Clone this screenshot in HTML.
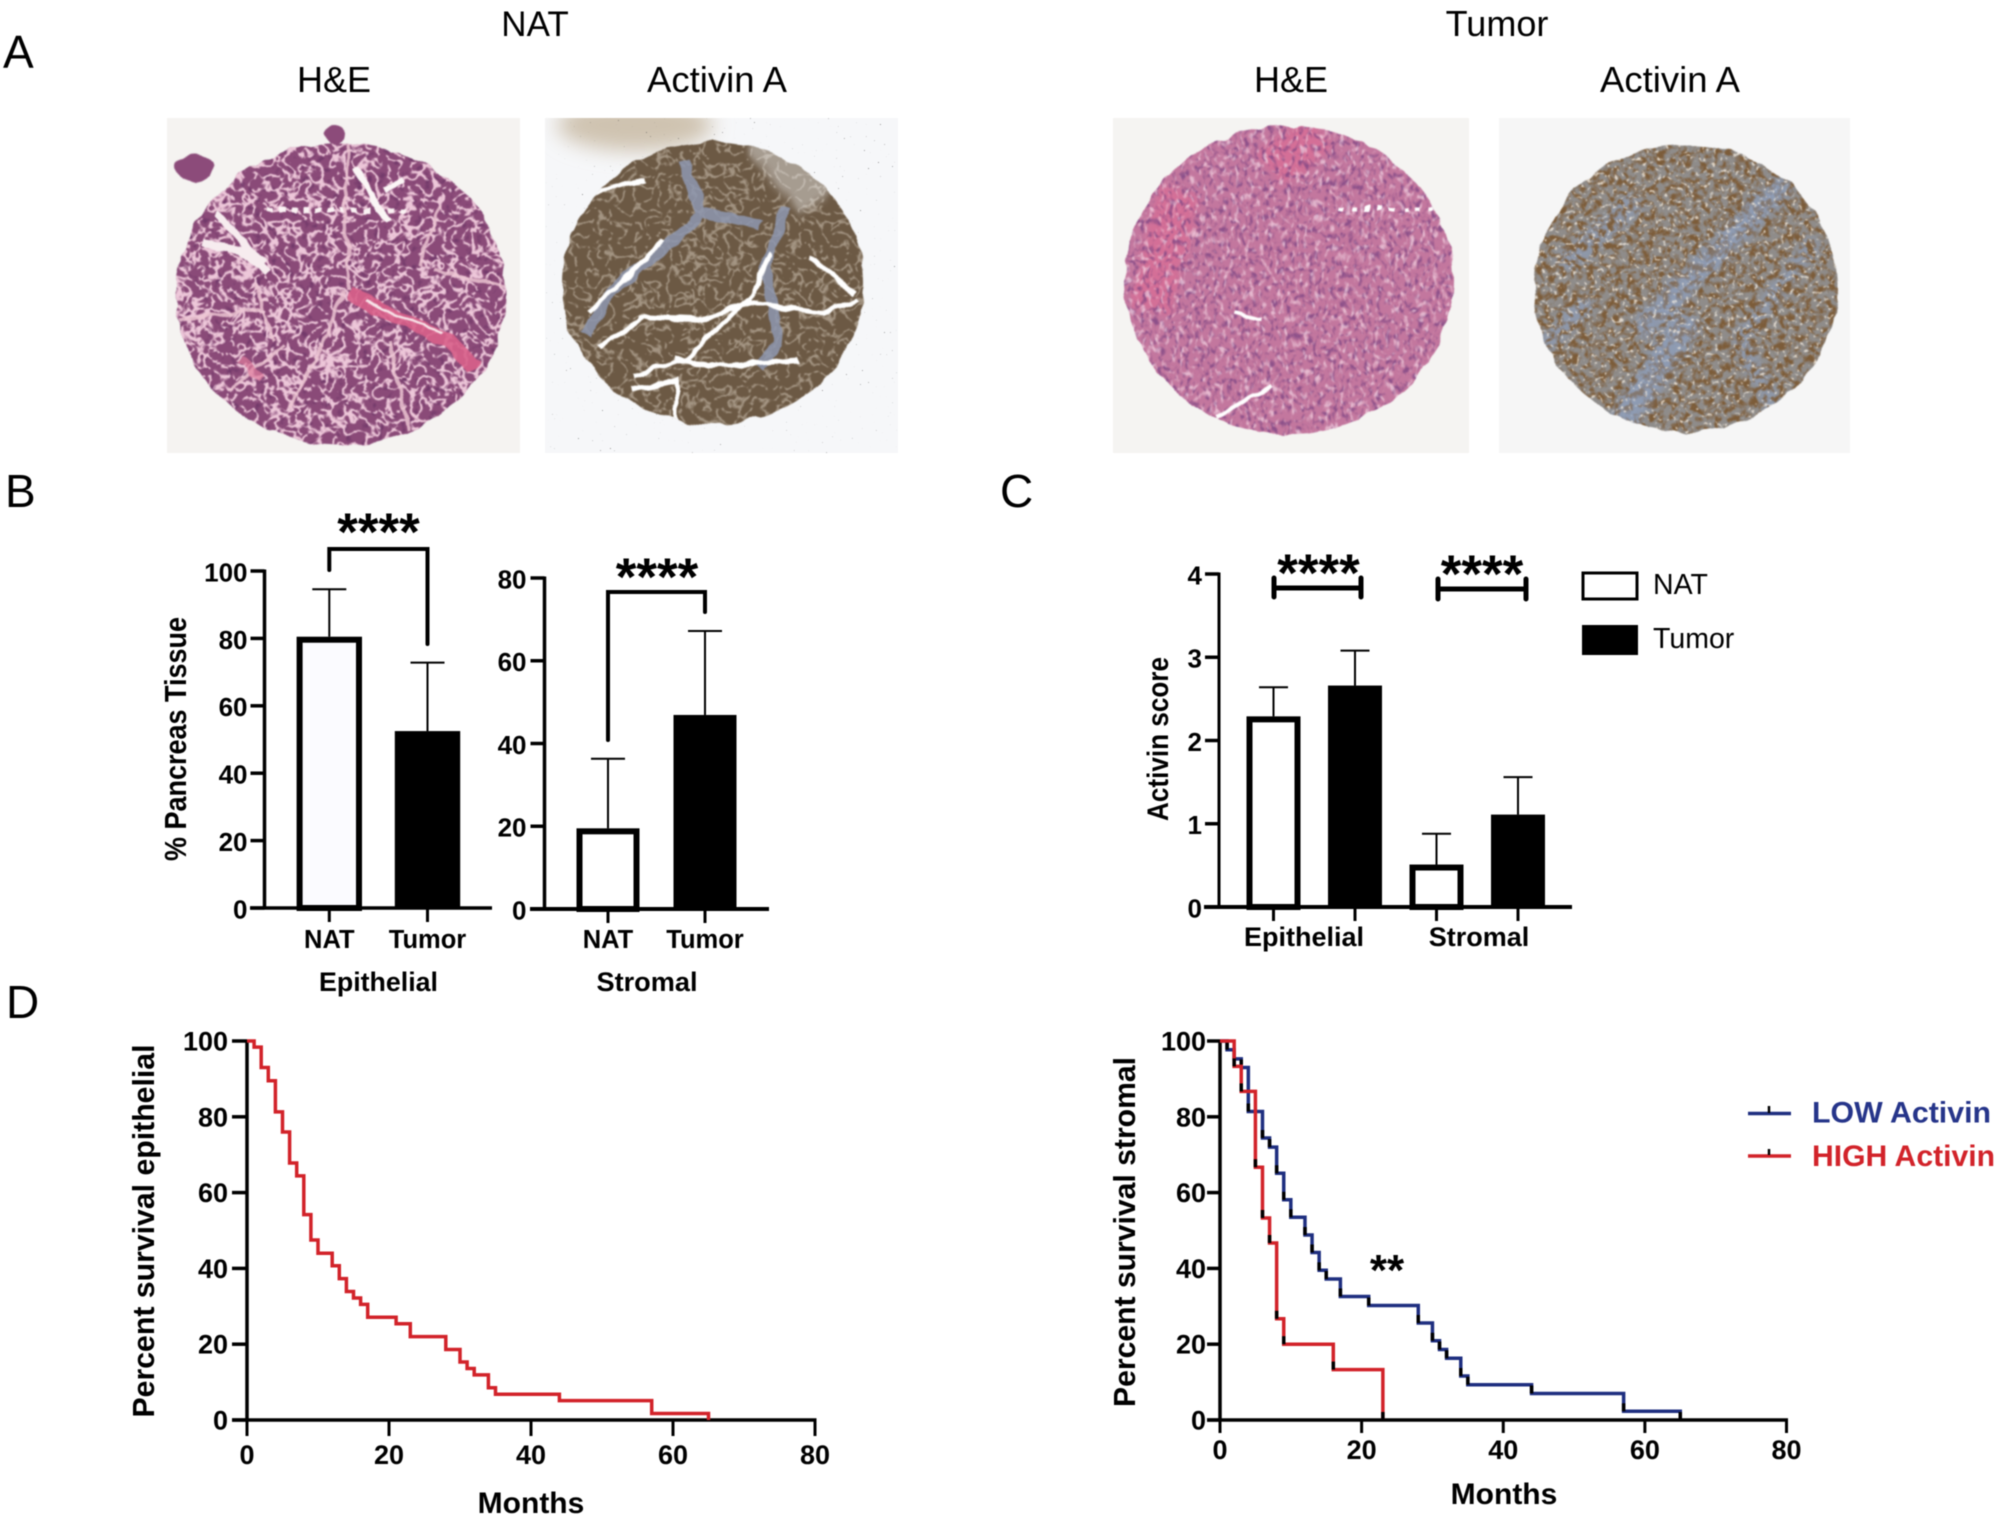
<!DOCTYPE html>
<html lang="en">
<head>
<meta charset="utf-8">
<title>Activin A expression in pancreatic tissue</title>
<style>
html,body{margin:0;padding:0;background:#fff;}
svg{display:block;font-family:"Liberation Sans",sans-serif;filter:blur(.5px);}
</style>
</head>
<body>
<svg id="figure" xmlns="http://www.w3.org/2000/svg" width="2000" height="1522" viewBox="0 0 2000 1522">
<defs>
  <clipPath id="clip-nat-he"><ellipse cx="341" cy="294" rx="165" ry="151"/></clipPath>
  <clipPath id="clip-nat-act"><ellipse cx="713" cy="283" rx="151" ry="141"/></clipPath>
  <clipPath id="clip-tum-he"><ellipse cx="1289" cy="280" rx="164" ry="154"/></clipPath>
  <clipPath id="clip-tum-act"><ellipse cx="1686" cy="288" rx="152" ry="143"/></clipPath>
  <clipPath id="clip-nat-act-frame"><rect x="545" y="118" width="353" height="335"/></clipPath>
  <filter id="rough" x="-5%" y="-5%" width="110%" height="110%" color-interpolation-filters="sRGB">
    <feTurbulence type="fractalNoise" baseFrequency=".05" numOctaves="2" seed="8" result="n"/>
    <feDisplacementMap in="SourceGraphic" in2="n" scale="9" xChannelSelector="R" yChannelSelector="G"/>
    <feGaussianBlur stdDeviation=".6"/>
  </filter>
  <filter id="lobule-net" x="0" y="0" width="1" height="1" color-interpolation-filters="sRGB">
    <feTurbulence type="turbulence" baseFrequency=".09" numOctaves="2" seed="7" result="n"/>
    <feColorMatrix in="n" values="0 0 0 0 .93  0 0 0 0 .78  0 0 0 0 .85  -8 0 0 0 1.8" result="c"/>
    <feComposite in="c" in2="SourceAlpha" operator="in"/>
  </filter>
  <filter id="lobule-net-white" x="0" y="0" width="1" height="1" color-interpolation-filters="sRGB">
    <feTurbulence type="turbulence" baseFrequency=".085" numOctaves="2" seed="15" result="n"/>
    <feColorMatrix in="n" values="0 0 0 0 .86  0 0 0 0 .82  0 0 0 0 .76  -8 0 0 0 1.5" result="c"/>
    <feComposite in="c" in2="SourceAlpha" operator="in"/>
  </filter>
  <filter id="fine-pale" x="0" y="0" width="1" height="1" color-interpolation-filters="sRGB">
    <feTurbulence type="fractalNoise" baseFrequency=".2 .13" numOctaves="2" seed="3" result="n"/>
    <feColorMatrix in="n" values="0 0 0 0 .95  0 0 0 0 .82  0 0 0 0 .88  4 0 0 0 -2.1" result="c"/>
    <feComposite in="c" in2="SourceAlpha" operator="in"/>
  </filter>
  <filter id="fine-dark" x="0" y="0" width="1" height="1" color-interpolation-filters="sRGB">
    <feTurbulence type="fractalNoise" baseFrequency=".22 .15" numOctaves="2" seed="11" result="n"/>
    <feColorMatrix in="n" values="0 0 0 0 .5  0 0 0 0 .28  0 0 0 0 .52  4 0 0 0 -2" result="c"/>
    <feComposite in="c" in2="SourceAlpha" operator="in"/>
  </filter>
  <filter id="nuclei" x="0" y="0" width="1" height="1" color-interpolation-filters="sRGB">
    <feTurbulence type="fractalNoise" baseFrequency=".13" numOctaves="2" seed="19" result="n"/>
    <feColorMatrix in="n" values="0 0 0 0 .38  0 0 0 0 .18  0 0 0 0 .38  5 0 0 0 -2.9" result="c"/>
    <feComposite in="c" in2="SourceAlpha" operator="in"/>
  </filter>
  <filter id="fine-white" x="0" y="0" width="1" height="1" color-interpolation-filters="sRGB">
    <feTurbulence type="fractalNoise" baseFrequency=".26" numOctaves="2" seed="5" result="n"/>
    <feColorMatrix in="n" values="0 0 0 0 .96  0 0 0 0 .93  0 0 0 0 .88  7 0 0 0 -4.3" result="c"/>
    <feComposite in="c" in2="SourceAlpha" operator="in"/>
  </filter>
  <filter id="brown-patches" x="0" y="0" width="1" height="1" color-interpolation-filters="sRGB">
    <feTurbulence type="fractalNoise" baseFrequency=".14" numOctaves="3" seed="21" result="n"/>
    <feColorMatrix in="n" values="0 0 0 0 .48  0 0 0 0 .33  0 0 0 0 .17  4 0 0 0 -1.7" result="c"/>
    <feComposite in="c" in2="SourceAlpha" operator="in"/>
  </filter>
  <filter id="dust" x="0" y="0" width="1" height="1" color-interpolation-filters="sRGB">
    <feTurbulence type="fractalNoise" baseFrequency=".5" numOctaves="1" seed="9" result="n"/>
    <feColorMatrix in="n" values="0 0 0 0 .3  0 0 0 0 .3  0 0 0 0 .3  14 0 0 0 -10.4" result="c"/>
    <feComposite in="c" in2="SourceAlpha" operator="in"/>
  </filter>
  <filter id="soft" x="-30%" y="-60%" width="160%" height="220%"><feGaussianBlur stdDeviation="10"/></filter>
  <filter id="soft-small" x="-10%" y="-10%" width="120%" height="120%"><feGaussianBlur stdDeviation="4"/></filter>
</defs>

<g id="panel-a">
  <text x="3" y="68" font-size="46">A</text>
  <text x="535" y="36" font-size="35" text-anchor="middle">NAT</text>
  <text x="1497" y="36" font-size="36" text-anchor="middle">Tumor</text>
  <text x="334" y="92" font-size="36" text-anchor="middle">H&amp;E</text>
  <text x="717" y="92" font-size="36.5" text-anchor="middle">Activin A</text>
  <text x="1291" y="92" font-size="36" text-anchor="middle">H&amp;E</text>
  <text x="1670" y="92" font-size="36.5" text-anchor="middle">Activin A</text>

  <g>
    <rect x="167" y="118" width="353" height="335" fill="#f5f3f1"/>
    <g filter="url(#rough)">
      <ellipse cx="195" cy="168" rx="19" ry="14" fill="#8c4b7a"/>
      <ellipse cx="335" cy="135" rx="9" ry="9" fill="#8c4b7a"/>
      <g clip-path="url(#clip-nat-he)">
        <rect x="167" y="118" width="353" height="335" fill="#8a4a78"/>
        <rect x="167" y="118" width="353" height="335" filter="url(#nuclei)" opacity=".6"/>
        <rect x="167" y="118" width="353" height="335" filter="url(#lobule-net)"/>
        <path d="M174 190 L235 150 L180 130 Z M470 160 L520 230 L520 130 Z" fill="#f5f3f1"/>
        <path d="M204 243 L240 250 L268 272 M217 213 L262 262" fill="none" stroke="#f7ecef" stroke-width="8"/>
        <path d="M357 168 L372 200 L389 222 M385 190 L405 180" fill="none" stroke="#fbf6f6" stroke-width="7"/>
        <path d="M268 210 L408 210" fill="none" stroke="#fbf3f4" stroke-width="5" stroke-dasharray="6 6"/>
        <path d="M255 283 L274 340 M344 290 L313 367 L287 407 M389 340 L408 430 M434 270 L504 287 M179 320 L262 310 M230 390 L285 345 M350 130 L345 200 L348 290 M440 205 L420 265" fill="none" stroke="#ecc6d2" stroke-width="3.5" opacity=".85"/>
        <path d="M348 293 L396 317 L447 340 L475 367" fill="none" stroke="#d8608a" stroke-width="15" opacity=".9"/>
        <path d="M367 302 L405 318 L440 332" fill="none" stroke="#f8e6ea" stroke-width="3"/>
        <path d="M240 360 L262 378" fill="none" stroke="#e07c9c" stroke-width="8" opacity=".7"/>
      </g>
    </g>
  </g>

  <g>
    <rect x="545" y="118" width="353" height="335" fill="#f6f7f9"/>
    <g clip-path="url(#clip-nat-act-frame)">
      <ellipse cx="635" cy="125" rx="78" ry="26" fill="#cfc3b0" filter="url(#soft)"/>
    </g>
    <rect x="545" y="118" width="353" height="335" filter="url(#dust)" opacity=".6"/>
    <g filter="url(#rough)">
      <g clip-path="url(#clip-nat-act)">
        <rect x="545" y="118" width="353" height="335" fill="#6c5944"/>
        <rect x="545" y="118" width="353" height="335" filter="url(#lobule-net-white)" opacity=".5"/>
        <path d="M746 150 L800 215 L860 170 L760 130 Z" fill="#eeeeee" opacity=".45" filter="url(#soft-small)"/>
        <path d="M683 160 L702 213 L663 250 L612 290 L587 333 M785 207 L766 267 L778 343 L759 367 M702 213 L760 225" fill="none" stroke="#8e98b0" stroke-width="11" opacity=".85"/>
        <path d="M587 313 L632 273 L663 240 M600 347 L644 317 M638 317 L702 320 L746 303 L823 313 L858 300 M753 293 L721 327 L683 360 L632 377 M676 357 L708 367 L798 360 M772 253 L753 293 M810 257 L855 293 M632 390 L676 380 L676 425 M593 193 L644 180" fill="none" stroke="#fff" stroke-width="5"/>
      </g>
    </g>
  </g>

  <g>
    <rect x="1113" y="118" width="356" height="335" fill="#f5f4f2"/>
    <g filter="url(#rough)">
      <g clip-path="url(#clip-tum-he)">
        <rect x="1113" y="118" width="356" height="335" fill="#c3779e"/>
        <path d="M1180 190 L1150 310 M1320 130 L1270 170" fill="none" stroke="#e26a92" stroke-width="42" opacity=".55" filter="url(#soft-small)"/>
        <rect x="1113" y="118" width="356" height="335" filter="url(#fine-dark)" opacity=".8"/>
        <rect x="1113" y="118" width="356" height="335" filter="url(#fine-pale)" opacity=".75"/>
        <path d="M1338 208 L1434 208" fill="none" stroke="#fff" stroke-width="4" stroke-dasharray="5 8"/>
        <path d="M1235 312 L1262 320 M1217 417 L1274 383" fill="none" stroke="#fff" stroke-width="4"/>
      </g>
    </g>
  </g>

  <g>
    <rect x="1499" y="118" width="351" height="335" fill="#f6f6f6"/>
    <g filter="url(#rough)">
      <g clip-path="url(#clip-tum-act)">
        <rect x="1499" y="118" width="351" height="335" fill="#8f8c8a"/>
        <g fill="none" stroke="#8ea0c0" opacity=".6" filter="url(#soft-small)">
          <path d="M1785 183 L1700 270 L1638 333" stroke-width="24"/>
          <path d="M1561 267 L1638 200" stroke-width="22"/>
          <path d="M1612 440 L1670 347 L1689 317" stroke-width="30"/>
          <path d="M1540 350 L1590 300" stroke-width="20"/>
          <path d="M1780 420 L1740 340 L1815 240" stroke-width="16"/>
        </g>
        <rect x="1499" y="118" width="351" height="335" filter="url(#brown-patches)" opacity=".85"/>
        <g fill="none" stroke="#8ea0c0" opacity=".4" filter="url(#soft-small)">
          <path d="M1785 183 L1700 270 L1638 333" stroke-width="18"/>
          <path d="M1612 440 L1670 347 L1689 317" stroke-width="24"/>
        </g>
        <rect x="1499" y="118" width="351" height="335" filter="url(#fine-white)" opacity=".8"/>
      </g>
    </g>
  </g>
</g>

<g id="panel-b">
  <text x="5" y="507" font-size="46">B</text>
  <text transform="translate(186 739) rotate(-90)" font-size="31" font-weight="bold" text-anchor="middle" textLength="244" lengthAdjust="spacingAndGlyphs">% Pancreas Tissue</text>
  <text x="378.5" y="991" font-size="27" font-weight="bold" text-anchor="middle" textLength="119" lengthAdjust="spacingAndGlyphs">Epithelial</text>
  <text x="647" y="991" font-size="27" font-weight="bold" text-anchor="middle" textLength="101" lengthAdjust="spacingAndGlyphs">Stromal</text>
</g>

<g id="panel-c">
  <text x="1000" y="507" font-size="46">C</text>
  <text transform="translate(1168 739) rotate(-90)" font-size="30" font-weight="bold" text-anchor="middle" textLength="164" lengthAdjust="spacingAndGlyphs">Activin score</text>
  <g>
    <rect x="1583" y="573" width="54" height="26" fill="#fff" stroke="#000" stroke-width="3"/>
    <text x="1653" y="594" font-size="28.5">NAT</text>
  </g>
  <g>
    <rect x="1582" y="625" width="56" height="30" fill="#000"/>
    <text x="1653" y="648" font-size="28.5">Tumor</text>
  </g>
</g>

<g id="panel-d">
  <text x="6" y="1018" font-size="46">D</text>
  <text transform="translate(154 1231) rotate(-90)" font-size="31" font-weight="bold" text-anchor="middle" textLength="373" lengthAdjust="spacingAndGlyphs">Percent survival epithelial</text>
  <text x="531" y="1513" font-size="30" font-weight="bold" text-anchor="middle">Months</text>
  <text transform="translate(1135 1232) rotate(-90)" font-size="31" font-weight="bold" text-anchor="middle" textLength="350" lengthAdjust="spacingAndGlyphs">Percent survival stromal</text>
  <text x="1504" y="1504" font-size="30" font-weight="bold" text-anchor="middle">Months</text>
  <text x="1387" y="1285" font-size="44" font-weight="bold" text-anchor="middle">**</text>
  <g>
    <line x1="1748" x2="1791" y1="1113.5" y2="1113.5" stroke="#1f2f80" stroke-width="3.5"/>
    <line x1="1769" x2="1769" y1="1106" y2="1113" stroke="#000" stroke-width="2.5"/>
    <text x="1812" y="1122.5" font-size="30" font-weight="bold" fill="#26358a" textLength="179" lengthAdjust="spacingAndGlyphs">LOW Activin</text>
  </g>
  <g>
    <line x1="1748" x2="1791" y1="1156" y2="1156" stroke="#d2232a" stroke-width="3.5"/>
    <line x1="1769" x2="1769" y1="1149" y2="1155" stroke="#000" stroke-width="2.5"/>
    <text x="1812" y="1166" font-size="30" font-weight="bold" fill="#d2232a" textLength="183" lengthAdjust="spacingAndGlyphs">HIGH Activin</text>
  </g>
</g>
</svg>

<script>
/* Panel B data */
const tissueCategories = ['NAT', 'Tumor'];
const epithelialMeans = [80.5, 52.5];
const epithelialErrors = [14.1, 20.3];
const epithelialTicks = [0, 20, 40, 60, 80, 100];
const stromalMeans = [19.5, 46.9];
const stromalErrors = [16.8, 20.3];
const stromalTicks = [0, 20, 40, 60, 80];
const significanceLabel = '****';

/* Panel C data */
const scoreGroups = ['Epithelial', 'Stromal'];
const scoreNatMeans = [2.29, 0.51];
const scoreNatErrors = [0.35, 0.37];
const scoreTumorMeans = [2.66, 1.11];
const scoreTumorErrors = [0.42, 0.45];
const scoreTicks = [0, 1, 2, 3, 4];

/* Panel D data */
const survivalTicks = [0, 20, 40, 60, 80, 100];
const monthTicks = [0, 20, 40, 60, 80];
const epithelialMonths = [0, 1, 2, 3, 4, 5, 6, 7, 8, 9, 10, 12, 13, 14, 15, 16, 17, 21, 23, 28, 30, 31, 32, 34, 35, 44, 57, 65];
const epithelialSurvival = [100, 98.4, 93, 89.5, 81.3, 76, 67.8, 64.4, 54.2, 47.5, 44, 40.7, 37.3, 33.9, 32.2, 30.5, 27.1, 25.4, 22, 18.6, 15.3, 13.6, 11.9, 8.5, 6.8, 5.1, 1.7, 0];
const lowMonths = [0, 1, 2, 3, 4, 6, 7, 8, 9, 10, 12, 13, 14, 15, 17, 21, 28, 30, 31, 32, 34, 35, 44, 57, 65];
const lowSurvival = [100, 97.7, 95.3, 93, 81.4, 74.4, 72, 65.1, 58.1, 53.5, 48.8, 44.2, 39.5, 37.2, 32.6, 30.2, 25.6, 20.9, 18.6, 16.3, 11.6, 9.3, 7, 2.3, 0];
const highMonths = [0, 2, 3, 5, 6, 7, 8, 9, 16, 23];
const highSurvival = [100, 93.3, 86.7, 66.7, 53.3, 46.7, 26.7, 20, 13.3, 0];

const NS = 'http://www.w3.org/2000/svg';
const svgRoot = document.getElementById('figure');

function mk(parent, tag, attrs, text) {
  const el = document.createElementNS(NS, tag);
  for (const k in attrs) el.setAttribute(k, attrs[k]);
  if (text !== undefined) el.textContent = text;
  parent.appendChild(el);
  return el;
}
function linear(d0, d1, r0, r1) {
  return function (v) { return r0 + (v - d0) * (r1 - r0) / (d1 - d0); };
}
function band(count, first, step) {
  return function (i) { return first + i * step; };
}

function yAxis(parent, ticks, y, cfg) {
  const axis = mk(parent, 'line', { x1: cfg.x, x2: cfg.x, y1: y(ticks[ticks.length - 1]) - 1.5, y2: y(ticks[0]) + 1.5, stroke: '#000', 'stroke-width': cfg.sw });
  
  
  ticks.forEach(function (v) {
    const tick = mk(parent, 'line', { x1: cfg.x - cfg.len, x2: cfg.x, y1: y(v), y2: y(v), stroke: '#000', 'stroke-width': cfg.tickSw });
    
    
    const label = mk(parent, 'text', { x: cfg.x - cfg.len - cfg.gap, y: y(v) + cfg.fs * 0.4, 'font-size': cfg.fs, 'font-weight': 'bold', 'text-anchor': 'end' }, String(v));
    
    
  });
}

function barChart(parent, cfg) {
  const y = cfg.y;
  const bar = mk(parent, 'g', {});
  
  
  cfg.series.forEach(function (s) {
    const cx = s.cx;
    const top = y(s.value);
    const errTop = y(s.value + s.error);
    const stem = mk(bar, 'line', { x1: cx, x2: cx, y1: errTop, y2: top, stroke: '#000', 'stroke-width': 2 });
    
    
    const cap = mk(bar, 'line', { x1: cx - cfg.cap, x2: cx + cfg.cap, y1: errTop, y2: errTop, stroke: '#000', 'stroke-width': 2 });
    
    
    let rect;
    if (s.filled) {
      rect = mk(bar, 'rect', { x: cx - cfg.half, y: top, width: 2 * cfg.half, height: y(0) - top, fill: '#000' });
    } else {
      rect = mk(bar, 'rect', { x: cx - cfg.half + cfg.sw / 2, y: top + cfg.sw / 2, width: 2 * cfg.half - cfg.sw, height: y(0) - top - cfg.sw / 2, fill: s.fill || '#fff', stroke: '#000', 'stroke-width': cfg.sw });
    }
    
    
    const tick = mk(bar, 'line', { x1: cx, x2: cx, y1: y(0), y2: y(0) + cfg.tickLen, stroke: '#000', 'stroke-width': 3 });
    
    
  });
  const xAxisLine = mk(bar, 'line', { x1: cfg.axisStart, x2: cfg.axisEnd, y1: y(0), y2: y(0), stroke: '#000', 'stroke-width': cfg.axisSw });
  
  
}

function pairBracket(parent, x1, x2, top, leftEnd, rightEnd, starX, starBase, sw) {
  const path = mk(parent, 'path', { d: 'M' + x1 + ' ' + leftEnd + 'V' + top + 'H' + x2 + 'V' + rightEnd, fill: 'none', stroke: '#000', 'stroke-width': sw, 'stroke-linecap': 'round', 'stroke-linejoin': 'miter' });
  
  
  const star = mk(parent, 'text', { x: starX, y: starBase, 'font-size': 53, 'font-weight': 'bold', 'text-anchor': 'middle' }, significanceLabel);
  
  
}

function barLabel(parent, x, y, text, fs) {
  const t = mk(parent, 'text', { x: x, y: y, 'font-size': fs, 'font-weight': 'bold', 'text-anchor': 'middle' }, text);
  
  
}

/* Panel B, epithelial */
const panelB = document.getElementById('panel-b');
const epiY = linear(0, 100, 908, 571);
const epiX = band(2, 329.3, 98.2);
const epiAxes = mk(panelB, 'g', {});


barChart(epiAxes, {
  name: 'epithelial-bars', y: epiY, half: 32.7, sw: 6, cap: 17, tickLen: 14, axisStart: 250, axisEnd: 492, axisSw: 3.5,
  series: tissueCategories.map(function (c, i) {
    return { cx: epiX(i), value: epithelialMeans[i], error: epithelialErrors[i], filled: i === 1, label: c.toLowerCase(), fill: '#fbfbff' };
  })
});
yAxis(epiAxes, epithelialTicks, epiY, { x: 264.5, len: 14, gap: 3, fs: 26, sw: 3.5, tickSw: 3.5 });
tissueCategories.forEach(function (c, i) { barLabel(epiAxes, epiX(i), 948, c, 25.5); });
pairBracket(epiAxes, epiX(0), epiX(1), 549, 570, 644, 378.5, 550, 4);

/* Panel B, stromal */
const strY = linear(0, 80, 909, 578);
const strX = band(2, 608, 97);
const strAxes = mk(panelB, 'g', {});


barChart(strAxes, {
  name: 'stromal-bars', y: strY, half: 31.5, sw: 6, cap: 17, tickLen: 14, axisStart: 530, axisEnd: 769, axisSw: 4,
  series: tissueCategories.map(function (c, i) {
    return { cx: strX(i), value: stromalMeans[i], error: stromalErrors[i], filled: i === 1, label: c.toLowerCase() };
  })
});
yAxis(strAxes, stromalTicks, strY, { x: 544.5, len: 14, gap: 4, fs: 26, sw: 3.5, tickSw: 3.5 });
tissueCategories.forEach(function (c, i) { barLabel(strAxes, strX(i), 948, c, 25.5); });
pairBracket(strAxes, strX(0), strX(1), 592, 740, 612, 657, 595, 4);

/* Panel C */
const panelC = document.getElementById('panel-c');
const scoreY = linear(0, 4, 907, 574);
const scoreGroupX = band(2, 1273.5, 163);
const scoreAxes = mk(panelC, 'g', {});


const scoreSeries = [];
scoreGroups.forEach(function (g, i) {
  scoreSeries.push({ cx: scoreGroupX(i), value: scoreNatMeans[i], error: scoreNatErrors[i], filled: false, label: 'nat-' + g.toLowerCase() });
  scoreSeries.push({ cx: scoreGroupX(i) + 81.5, value: scoreTumorMeans[i], error: scoreTumorErrors[i], filled: true, label: 'tumor-' + g.toLowerCase() });
});
barChart(scoreAxes, {
  name: 'activin-score-bars', y: scoreY, half: 27, sw: 6, cap: 14.5, tickLen: 14, axisStart: 1204, axisEnd: 1572, axisSw: 4,
  series: scoreSeries
});
yAxis(scoreAxes, scoreTicks, scoreY, { x: 1219, len: 14, gap: 3, fs: 26, sw: 3, tickSw: 3.5 });
barLabel(scoreAxes, 1304, 946, scoreGroups[0], 27);
barLabel(scoreAxes, 1479, 946, scoreGroups[1], 27);
function flatBracket(parent, x1, x2, y, y1, y2, starX, starBase) {
  const bar = mk(parent, 'path', { d: 'M' + x1 + ' ' + y1 + 'V' + y2 + 'M' + x1 + ' ' + y + 'H' + x2 + 'M' + x2 + ' ' + y1 + 'V' + y2, fill: 'none', stroke: '#000', 'stroke-width': 5, 'stroke-linecap': 'round' });
  
  
  const star = mk(parent, 'text', { x: starX, y: starBase, 'font-size': 53, 'font-weight': 'bold', 'text-anchor': 'middle' }, significanceLabel);
  
  
}
flatBracket(scoreAxes, 1274, 1361, 588, 578, 597, 1318.5, 591);
flatBracket(scoreAxes, 1438, 1526, 589, 579, 599, 1482, 592);

/* Panel D */
const panelD = document.getElementById('panel-d');

function stepPath(times, levels, x, y) {
  let d = 'M' + x(times[0]) + ' ' + y(levels[0]);
  for (let i = 1; i < times.length; i++) {
    d += 'H' + x(times[i]) + 'V' + y(levels[i]);
  }
  return d;
}

function kmAxes(parent, x, y, cfg) {
  survivalTicks.forEach(function (v) {
    const tick = mk(parent, 'line', { x1: x(0) - cfg.len, x2: x(0), y1: y(v), y2: y(v), stroke: '#000', 'stroke-width': 3.5 });
    
    
    const label = mk(parent, 'text', { x: x(0) - cfg.len - cfg.gap, y: y(v) + 9.5, 'font-size': 27, 'font-weight': 'bold', 'text-anchor': 'end' }, String(v));
    
    
  });
  monthTicks.forEach(function (v) {
    const tick = mk(parent, 'line', { x1: x(v), x2: x(v), y1: y(0), y2: y(0) + cfg.down, stroke: '#000', 'stroke-width': 3 });
    
    
    const label = mk(parent, 'text', { x: x(v), y: cfg.labelBase, 'font-size': 27, 'font-weight': 'bold', 'text-anchor': 'middle' }, String(v));
    
    
  });
  const yLine = mk(parent, 'line', { x1: x(0), x2: x(0), y1: y(100) - 1.5, y2: y(0) + 1.5, stroke: '#000', 'stroke-width': 3.5 });
  
  
  const xLine = mk(parent, 'line', { x1: x(0) - cfg.len, x2: x(80) + 1.5, y1: y(0), y2: y(0), stroke: '#000', 'stroke-width': 3.5 });
  
  
}

const kmEpiX = linear(0, 80, 247, 815);
const kmEpiY = linear(0, 100, 1420, 1041);
const kmEpi = mk(panelD, 'g', {});


kmAxes(kmEpi, kmEpiX, kmEpiY, { len: 15, gap: 4, down: 16, labelBase: 1464 });
const epiLine = mk(kmEpi, 'path', { d: stepPath(epithelialMonths, epithelialSurvival, kmEpiX, kmEpiY), fill: 'none', stroke: '#d2232a', 'stroke-width': 3.5, 'stroke-linejoin': 'miter' });



const kmStrX = linear(0, 80, 1220, 1786.5);
const kmStrY = linear(0, 100, 1420, 1041);
const kmStr = mk(panelD, 'g', {});


kmAxes(kmStr, kmStrX, kmStrY, { len: 13, gap: 1, down: 13, labelBase: 1459 });

function kmSeries(parent, times, levels, color, name) {
  const line = mk(parent, 'path', { d: stepPath(times, levels, kmStrX, kmStrY), fill: 'none', stroke: color, 'stroke-width': 3.5, 'stroke-linejoin': 'miter' });
  
  
  for (let i = 1; i < times.length; i++) {
    const mark = mk(parent, 'line', { x1: kmStrX(times[i]), x2: kmStrX(times[i]), y1: kmStrY(levels[i]), y2: kmStrY(levels[i]) - 8, stroke: '#000', 'stroke-width': 3.5 });
    
    
  }
}
kmSeries(kmStr, lowMonths, lowSurvival, '#1f2f80', 'low');
kmSeries(kmStr, highMonths, highSurvival, '#d2232a', 'high');
</script>
</body>
</html>
